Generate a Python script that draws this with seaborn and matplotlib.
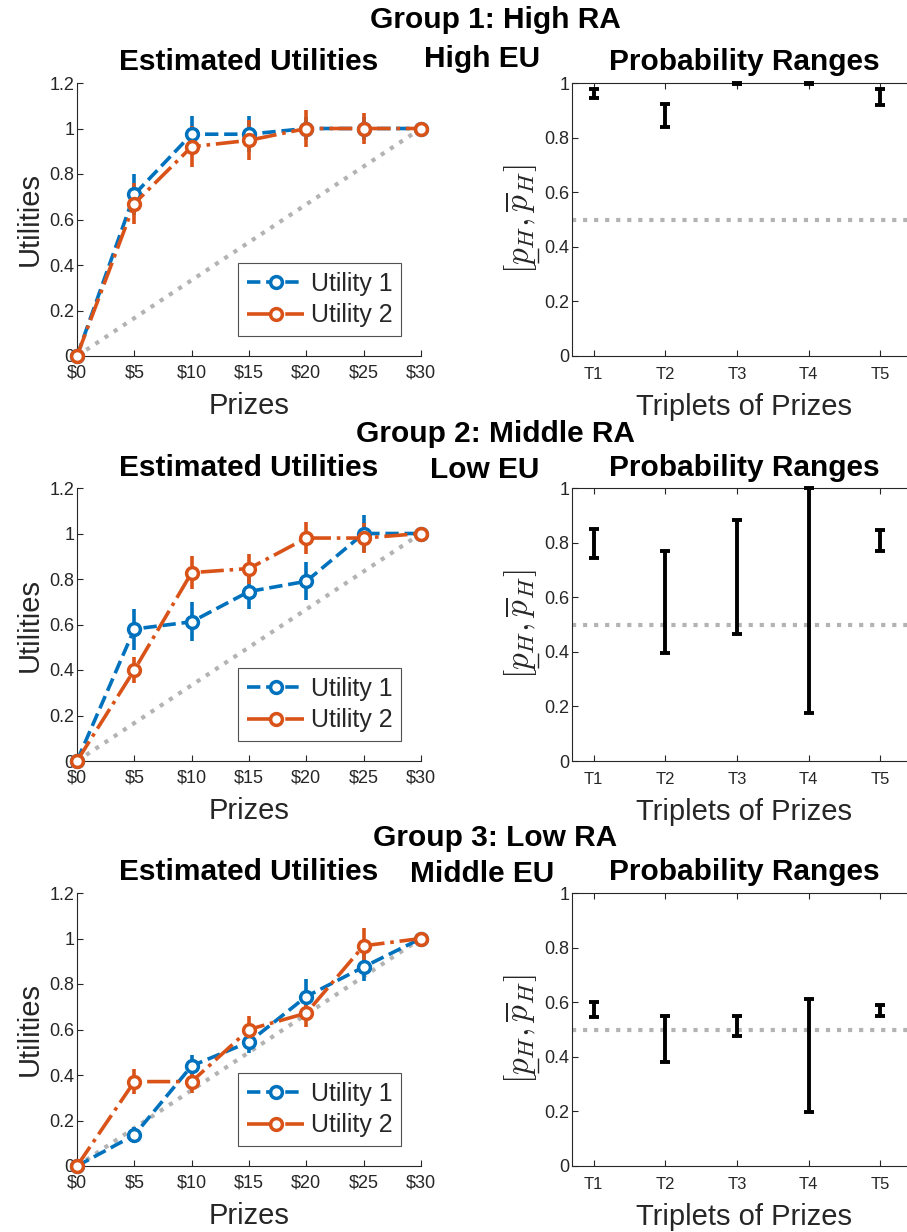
import numpy as np
import pandas as pd
import matplotlib
matplotlib.use("Agg")
import matplotlib.pyplot as plt
from matplotlib.lines import Line2D
import seaborn as sns

# ---------------- data ----------------
prizes = [0, 5, 10, 15, 20, 25, 30]
prize_labels = ["$0", "$5", "$10", "$15", "$20", "$25", "$30"]
triplets = ["T1", "T2", "T3", "T4", "T5"]
diag_x = [0, 30]
diag_y = [0, 1]

group_titles = ["Group 1: High RA", "Group 2: Middle RA", "Group 3: Low RA"]
eu_labels = ["High EU", "Low EU", "Middle EU"]

# estimated utilities and their error half-widths
g1_u1 = [0, 0.71, 0.975, 0.975, 1.0, 1.0, 1.0]
g1_e1 = [0, 0.09, 0.08, 0.08, 0.05, 0.05, 0]
g1_u2 = [0, 0.67, 0.92, 0.948, 1.0, 1.0, 1.0]
g1_e2 = [0, 0.09, 0.09, 0.088, 0.082, 0.066, 0]

g2_u1 = [0, 0.58, 0.612, 0.745, 0.79, 1.0, 1.0]
g2_e1 = [0, 0.09, 0.085, 0.077, 0.083, 0.082, 0]
g2_u2 = [0, 0.40, 0.828, 0.846, 0.98, 0.98, 1.0]
g2_e2 = [0, 0.058, 0.073, 0.066, 0.072, 0.064, 0]

g3_u1 = [0, 0.136, 0.44, 0.545, 0.745, 0.875, 1.0]
g3_e1 = [0, 0.037, 0.048, 0.05, 0.075, 0.06, 0]
g3_u2 = [0, 0.371, 0.371, 0.60, 0.672, 0.968, 1.0]
g3_e2 = [0, 0.056, 0.05, 0.058, 0.062, 0.08, 0]

# probability ranges [lower, upper] per triplet
g1_lo = [0.946, 0.839, 0.996, 0.996, 0.918]
g1_hi = [0.979, 0.922, 1.0, 1.0, 0.979]
g2_lo = [0.745, 0.396, 0.465, 0.177, 0.770]
g2_hi = [0.848, 0.768, 0.884, 1.0, 0.845]
g3_lo = [0.544, 0.381, 0.478, 0.199, 0.550]
g3_hi = [0.600, 0.551, 0.548, 0.612, 0.588]

groups = [
    (g1_u1, g1_e1, g1_u2, g1_e2, g1_lo, g1_hi),
    (g2_u1, g2_e1, g2_u2, g2_e2, g2_lo, g2_hi),
    (g3_u1, g3_e1, g3_u2, g3_e2, g3_lo, g3_hi),
]

# ---------------- style ----------------
sns.set_theme(style="ticks")
plt.rcParams["font.family"] = ["Liberation Sans", "DejaVu Sans"]
plt.rcParams["mathtext.fontset"] = "cm"
plt.rcParams["axes.edgecolor"] = "#262626"
plt.rcParams["axes.linewidth"] = 0.8
plt.rcParams["xtick.color"] = "#262626"
plt.rcParams["ytick.color"] = "#262626"

BLUE = "#0072BD"
ORANGE = "#D95319"
GRAY = "#b3b3b3"
DARK = "#262626"
TITLE_SIZE = 21.5
PROB_SIZE = 24
PROB_LABEL = r"$[p_H,\overline{p}_H]$"

W, H = 907, 1232
fig = plt.figure(figsize=(W / 100, H / 100), dpi=100)


def px_axes(left, top, width, height):
    return fig.add_axes([left / W, 1 - (top + height) / H, width / W, height / H])


tops = [83, 488, 893]
title_base = [28, 442, 846]
eu_base = [67, 478, 882]
eu_x = [482, 485, 482]
prob_axes = []

for gi, (u1, e1, u2, e2, lo, hi) in enumerate(groups):
    top = tops[gi]

    # ---- utilities panel ----
    ax = px_axes(77, top, 344, 273)
    sns.lineplot(x=diag_x, y=diag_y, ax=ax, color=GRAY, linestyle=":", lw=3,
                 errorbar=None, zorder=1)
    for u, e, col, ls, lab in [(u1, e1, BLUE, "--", "Utility 1"),
                               (u2, e2, ORANGE, "-.", "Utility 2")]:
        df = pd.DataFrame({"prize": prizes, "utility": u})
        ax.errorbar(prizes, u, yerr=e, fmt="none", ecolor=col,
                    elinewidth=2.6, capsize=0, zorder=2, clip_on=False)
        sns.lineplot(data=df, x="prize", y="utility", ax=ax, color=col,
                     linestyle=ls, lw=2.6, marker="o", markersize=8.5,
                     markeredgewidth=2.5, markerfacecolor="white",
                     markeredgecolor=col, errorbar=None, sort=False,
                     label=lab, zorder=3, clip_on=False)
    ax.set_xlim(0, 30)
    ax.set_ylim(0, 1.2)
    ax.set_xticks(prizes)
    ax.set_xticklabels([s.replace("$", r"\$") for s in prize_labels], fontsize=13)
    ax.set_yticks([0, 0.2, 0.4, 0.6, 0.8, 1.0, 1.2])
    ax.set_yticklabels(["0", "0.2", "0.4", "0.6", "0.8", "1", "1.2"], fontsize=13)
    ax.tick_params(direction="in", length=4, width=0.8, pad=2)
    ax.tick_params(axis="x", pad=6)
    ax.set_xlabel("Prizes", fontsize=21, color=DARK, labelpad=8)
    ax.set_ylabel("Utilities", fontsize=21, color=DARK, labelpad=4)
    ax.set_title("Estimated Utilities", fontsize=TITLE_SIZE, fontweight="bold",
                 color="black", pad=9)
    sns.despine(ax=ax)
    leg = ax.legend(loc="lower right", bbox_to_anchor=(0.942, 0.073),
                    borderaxespad=0, fontsize=18, frameon=True, fancybox=False,
                    handlelength=2.3, handletextpad=0.25, borderpad=0.35,
                    labelspacing=0.3)
    leg.get_frame().set_edgecolor(DARK)
    leg.get_frame().set_linewidth(0.8)

    # ---- probability range panel ----
    bx = px_axes(572, top, 344, 273)
    prob_axes.append(bx)
    xs = np.arange(1, len(triplets) + 1)
    lo_a = np.array(lo)
    hi_a = np.array(hi)
    mid = (lo_a + hi_a) / 2
    bx.axhline(0.5, color=GRAY, linestyle=":", lw=3, zorder=1)
    bx.errorbar(xs, mid, yerr=[mid - lo_a, hi_a - mid], fmt="none", ecolor="black",
                elinewidth=2.8, capsize=3.5, capthick=2.8, zorder=3, clip_on=False)
    bx.set_xlim(0.7, 5.5)
    bx.set_ylim(0, 1)
    bx.set_xticks(xs)
    bx.set_xticklabels(triplets, fontsize=12)
    bx.set_yticks([0, 0.2, 0.4, 0.6, 0.8, 1.0])
    bx.set_yticklabels(["0", "0.2", "0.4", "0.6", "0.8", "1"], fontsize=13)
    bx.tick_params(direction="in", length=4, width=0.8, pad=2, top=True)
    bx.tick_params(axis="x", pad=8)
    bx.set_xlabel("Triplets of Prizes", fontsize=21, color=DARK, labelpad=8)
    bx.set_ylabel(PROB_LABEL, fontsize=PROB_SIZE, color=DARK, labelpad=4)
    bx.set_title("Probability Ranges", fontsize=TITLE_SIZE, fontweight="bold",
                 color="black", pad=9)

    # group headings
    fig.text(495 / W, 1 - title_base[gi] / H, group_titles[gi], ha="center",
             va="baseline", fontsize=TITLE_SIZE, fontweight="bold", color="black")
    fig.text(eu_x[gi] / W, 1 - eu_base[gi] / H, eu_labels[gi], ha="center",
             va="baseline", fontsize=TITLE_SIZE, fontweight="bold", color="black")

# underline the lower bound symbol (first p) of each probability-axis label
fig.canvas.draw()
renderer = fig.canvas.get_renderer()


def text_len(s):
    t = fig.text(0, 0, s, fontsize=PROB_SIZE)
    w = t.get_window_extent(renderer).width
    t.remove()
    return w


w_open = text_len(r"$[$")
w_open_p = text_len(r"$[p$")
to_fig = fig.transFigure.inverted()
for a in prob_axes:
    bb = a.yaxis.label.get_window_extent(renderer)
    x = bb.x1 - 1.0
    y_a = bb.y0 + w_open + 0.5
    y_b = bb.y0 + w_open_p - 1.0
    (fx0, fy0), (fx1, fy1) = to_fig.transform([(x, y_a), (x, y_b)])
    fig.add_artist(Line2D([fx0, fx1], [fy0, fy1], transform=fig.transFigure,
                          color=DARK, lw=1.0, solid_capstyle="butt"))

fig.savefig("out.png", dpi=100)
